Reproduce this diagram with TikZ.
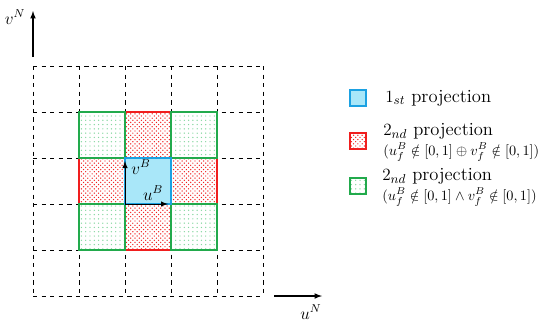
\documentclass[tikz,border=0pt]{standalone}
\usetikzlibrary{patterns,positioning}

\definecolor{projblue}{HTML}{1BA1E2}
\definecolor{projcyan}{HTML}{A9E7F9}
\definecolor{projred}{HTML}{F01E1E}
\definecolor{projgreen}{HTML}{22AA4C}
\definecolor{dotgreen}{HTML}{86D6A0}

\tikzset{
  gridline/.style={dashed, line width=0.6pt},
  firstcell/.style={draw=projblue, line width=1.4pt, fill=projcyan},
  redcell/.style={draw=projred, line width=1.4pt, pattern=crosshatch dots, pattern color=projred},
  greencell/.style={draw=projgreen, line width=1.4pt, pattern=dots, pattern color=dotgreen},
  axis/.style={->, >=latex, line width=0.8pt},
  basis/.style={->, >=latex, line width=0.7pt},
  swatch/.style={minimum size=11pt, inner sep=0pt},
  axlabel/.style={font=\large},
  legtext/.style={anchor=west, align=left, inner sep=0pt, font=\fontsize{13}{14}\selectfont}
}
\newcommand{\condline}[1]{{\fontsize{10}{14}\selectfont$#1$}}

\begin{document}
\begin{tikzpicture}[x=0.7pt,y=-0.7pt]
\useasboundingbox (0,0) rectangle (550,326);

% dashed grid
\foreach \k in {0,...,5} {
  \draw[gridline] (33+46*\k,66) -- (33+46*\k,296);
  \draw[gridline] (33,66+46*\k) -- (263,66+46*\k);
}

% projection cells
\foreach \i/\j in {2/1,1/2,3/2,2/3}
  \draw[redcell] (33+46*\i,66+46*\j) rectangle ++(46,46);
\foreach \i/\j in {1/1,3/1,1/3,3/3}
  \draw[greencell] (33+46*\i,66+46*\j) rectangle ++(46,46);
\draw[firstcell] (125,158) rectangle (171,204);

% body axes
\coordinate (orig) at (125,204);
\coordinate (uB) at (168,204);
\coordinate (vB) at (125,161);
\draw[basis] (orig) -- (uB);
\draw[basis] (orig) -- (vB);
\node[axlabel] (uBlabel) at (153,193) {$u^B$};
\node[axlabel] (vBlabel) at (141,167) {$v^B$};

% navigation axes
\coordinate (vN0) at (33,57);
\coordinate (vN1) at (33,11);
\draw[axis] (vN0) -- (vN1);
\node[axlabel] (vNlabel) at (15,17) {$v^N$};
\coordinate (uN0) at (274,296);
\coordinate (uN1) at (322,296);
\draw[axis] (uN0) -- (uN1);
\node[axlabel] (uNlabel) at (311,312) {$u^N$};

% legend
\node[swatch, firstcell] (sw1) at (358,98) {};
\node[swatch, redcell] (sw2) at (358,141) {};
\node[swatch, greencell] (sw3) at (358,186) {};
\node[legtext] (lt1) at (385,98) {$1_{st}$ projection};
\node[legtext] (lt2) at (383,142) {$2_{nd}$ projection\\\condline{(u_f^B \notin [0,1] \oplus v_f^B \notin [0,1])}};
\node[legtext] (lt3) at (382,187) {$2_{nd}$ projection\\\condline{(u_f^B \notin [0,1] \wedge v_f^B \notin [0,1])}};
\end{tikzpicture}
\end{document}
